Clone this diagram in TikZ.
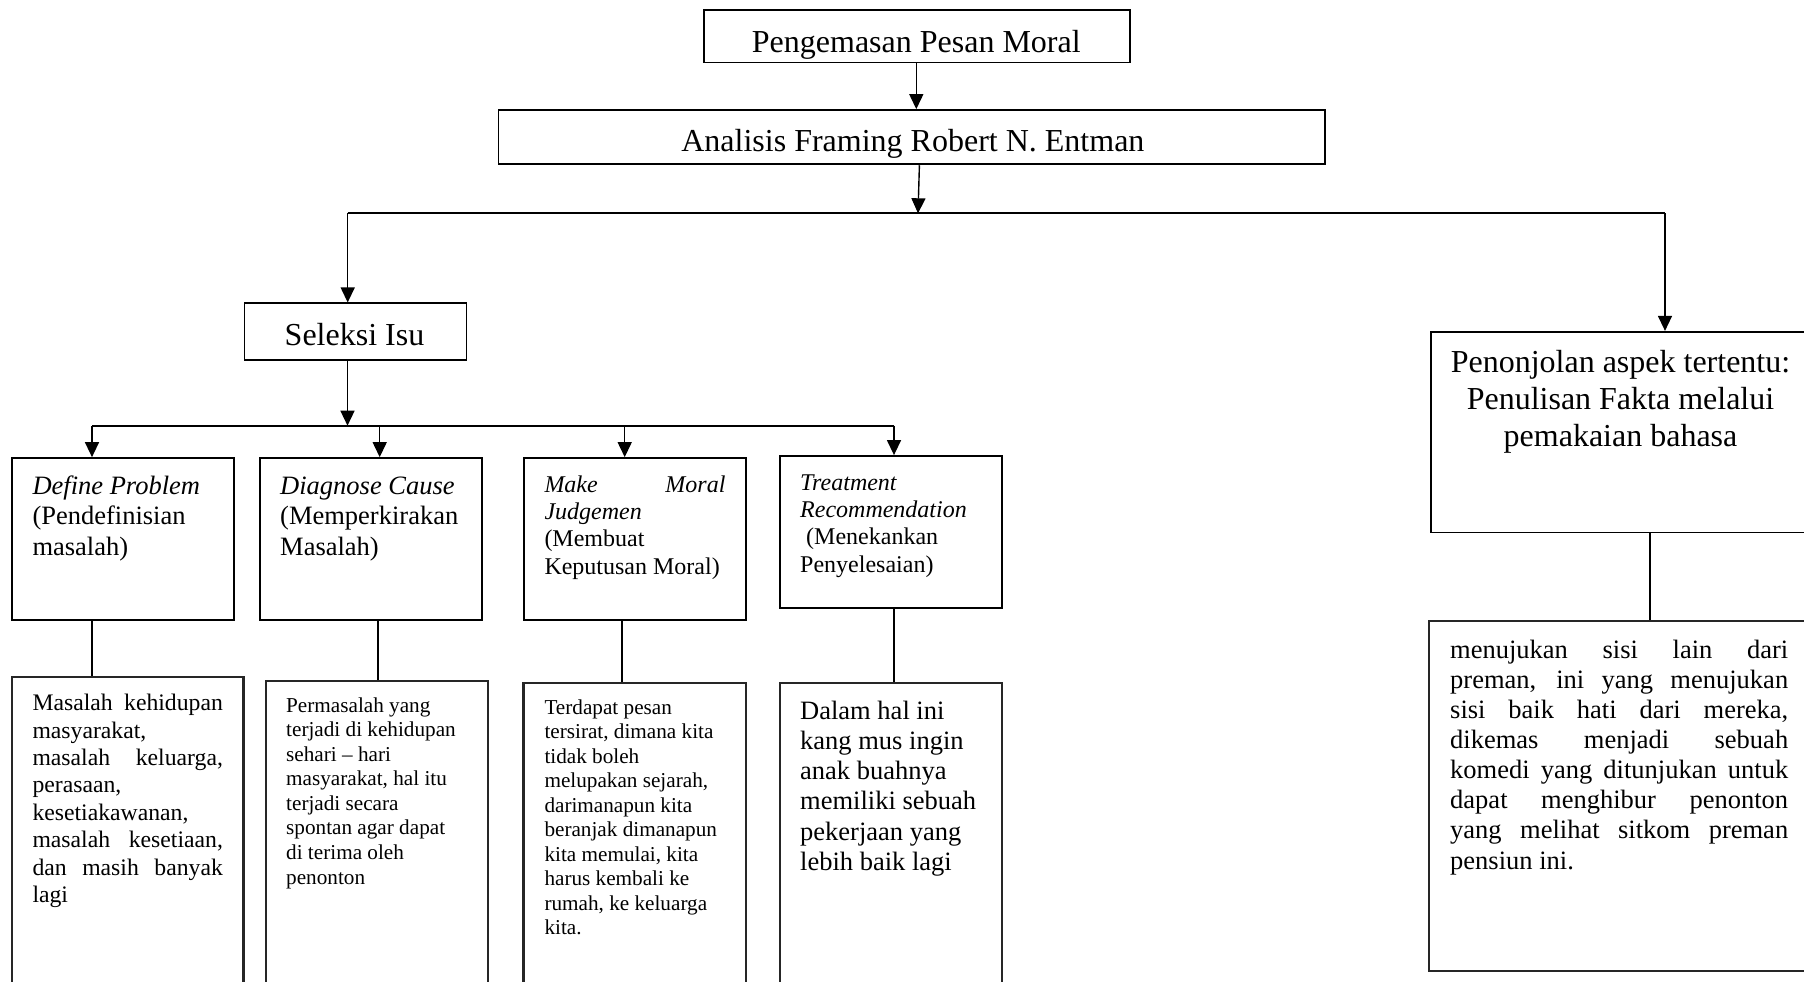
\documentclass[tikz,border=0pt]{standalone}
\usepackage{fontspec}
\setmainfont{Liberation Serif}
\usetikzlibrary{arrows.meta}
\newcommand\fsz[2]{\fontsize{#1}{#2}\selectfont}
\newcommand\Jl[2]{\hbox to #1{#2}}
\newcommand\Lf[1]{\hbox{#1}}
\newcommand\Cl[2]{\hbox to #1{\hss#2\hss}}
\tikzset{
  box/.style={draw, line width=1.8pt, inner sep=0pt, rectangle},
  bbox/.style={draw=black!85, line width=2.4pt, inner sep=0pt, rectangle},
  conn/.style={line width=1.6pt},
  arr/.style={line width=1.4pt, -{Triangle[length=15pt,width=14pt]}},
  busline/.style={line width=2.2pt},
  txt/.style={inner sep=0pt, anchor=base west},
  ctxt/.style={inner sep=0pt, anchor=base},
}
\begin{document}
\begin{tikzpicture}[x=1pt,y=-1pt]
\useasboundingbox (0,0) rectangle (1804,982);
\clip (0,0) rectangle (1804,982);
\fill[white] (0,0) rectangle (1804,982);

% boxes
\node[box, minimum width=426pt, minimum height=52.5pt] (top) at (917,36.3) {};
\node[box, minimum width=826.5pt, minimum height=54.3pt] (ana) at (911.8,137.2) {};
\node[box, minimum width=222pt, minimum height=56.7pt] (sel) at (355.4,331.7) {};
\node[box, minimum width=379.6pt, minimum height=200.6pt] (pen) at (1620.5,432.1) {};
\node[box, minimum width=222.6pt, minimum height=161.7pt] (dp) at (123,538.9) {};
\node[box, minimum width=222.6pt, minimum height=161.7pt] (dc) at (371,538.9) {};
\node[box, minimum width=222.3pt, minimum height=161.7pt] (mmj) at (634.9,538.9) {};
\node[box, minimum width=222.6pt, minimum height=152pt] (tr) at (891,532) {};
\node[bbox, minimum width=231.6pt, minimum height=323pt] (dpb) at (127.5,838.5) {};
\node[bbox, minimum width=222pt, minimum height=319pt] (dcb) at (376.7,840.5) {};
\node[bbox, minimum width=222.4pt, minimum height=317pt] (mmjb) at (634.5,841.5) {};
\node[bbox, minimum width=222pt, minimum height=317pt] (trb) at (890.7,841.5) {};
\node[bbox, minimum width=382.7pt, minimum height=350pt] (rb) at (1620.6,796) {};

% texts
\node[ctxt, font=\fsz{32}{37}] (toptxt) at (916.3,52.5) {Pengemasan Pesan Moral};
\node[ctxt, font=\fsz{32}{37}] (anatxt) at (912.9,151.5) {Analisis Framing Robert N. Entman};
\node[ctxt, font=\fsz{32}{37}] (seltxt) at (354.5,345.5) {Seleksi Isu};
\node[ctxt, font=\fsz{32}{37}] (pentxt) at (1620.5,372.5) {\vtop{\Cl{380pt}{Penonjolan aspek tertentu:}\Cl{380pt}{Penulisan Fakta melalui}\Cl{380pt}{pemakaian bahasa}}};

\node[txt, font=\fsz{26.5}{30.2}] (dptxt) at (32.3,494.6) {\vtop{\Lf{\itshape Define Problem}\Lf{(Pendefinisian}\Lf{masalah)}}};
\node[txt, font=\fsz{26.5}{30.2}] (dctxt) at (280,494.6) {\vtop{\Lf{\itshape Diagnose Cause}\Lf{(Memperkirakan}\Lf{Masalah)}}};
\node[txt, font=\fsz{24}{27.35}] (mmjtxt) at (544.3,492) {\vtop{\Jl{181pt}{\itshape Make Moral}\Lf{\itshape Judgemen}\Lf{(Membuat}\Lf{Keputusan Moral)}}};
\node[txt, font=\fsz{24}{27.47}] (trtxt) at (800,490) {\vtop{\Lf{\itshape Treatment}\Lf{\itshape Recommendation}\Lf{\hspace{6pt}(Menekankan}\Lf{Penyelesaian)}}};

\node[txt, font=\fsz{23.7}{27.4}] (dpbtxt) at (32.3,710.6) {\vtop{%
\Jl{190.4pt}{Masalah kehidupan}\Lf{masyarakat,}\Jl{190.4pt}{masalah keluarga,}\Lf{perasaan,}%
\Lf{kesetiakawanan,}\Jl{190.4pt}{masalah kesetiaan,}\Jl{190.4pt}{dan masih banyak}\Lf{lagi}}};
\node[txt, font=\fsz{21.2}{24.53}] (dcbtxt) at (286,712.3) {\vtop{%
\Lf{Permasalah yang}\Lf{terjadi di kehidupan}\Lf{sehari -- hari}\Lf{masyarakat, hal itu}%
\Lf{terjadi secara}\Lf{spontan agar dapat}\Lf{di terima oleh}\Lf{penonton}}};
\node[txt, font=\fsz{21.2}{24.5}] (mmjbtxt) at (544.3,714) {\vtop{%
\Lf{Terdapat pesan}\Lf{tersirat, dimana kita}\Lf{tidak boleh}\Lf{melupakan sejarah,}%
\Lf{darimanapun kita}\Lf{beranjak dimanapun}\Lf{kita memulai, kita}\Lf{harus kembali ke}%
\Lf{rumah, ke keluarga}\Lf{kita.}}};
\node[txt, font=\fsz{26.5}{30.3}] (trbtxt) at (800,719) {\vtop{%
\Lf{Dalam hal ini}\Lf{kang mus ingin}\Lf{anak buahnya}\Lf{memiliki sebuah}%
\Lf{pekerjaan yang}\Lf{lebih baik lagi}}};
\node[txt, font=\fsz{26.5}{30.03}] (rbtxt) at (1450,658.8) {\vtop{%
\Jl{338pt}{menujukan sisi lain dari}\Jl{338pt}{preman, ini yang menujukan}%
\Jl{338pt}{sisi baik hati dari mereka,}\Jl{338pt}{dikemas menjadi sebuah}%
\Jl{338pt}{komedi yang ditunjukan untuk}\Jl{338pt}{dapat menghibur penonton}%
\Jl{338pt}{yang melihat sitkom preman}\Lf{pensiun ini.}}};

% connector coordinates
\coordinate (busL) at (347.7,213.3);
\coordinate (busR) at (1665,213.3);
\coordinate (a2) at (919.4,0);
\coordinate (a2b) at (918,213.3);
\coordinate (b2L) at (92,425.7);
\coordinate (b2R) at (894,425.7);
\coordinate (s2) at (347.5,425.7);
\coordinate (xdc) at (379.7,425.7);
\coordinate (xmmj) at (624.7,425.7);
\coordinate (ydp) at (91.7,0);
\coordinate (ydc) at (377.7,0);
\coordinate (ymmj) at (622,0);
\coordinate (ytr) at (894,0);
\coordinate (ypen) at (1649.7,0);

% arrows
\draw[arr] (top.south -| toptxt) -- (ana.north -| toptxt);
\draw[arr] (a2 |- ana.south) -- (a2b);
\draw[busline] (busL) -- (busR);
\draw[arr] (busL) -- (busL |- sel.north);
\draw[arr] (busR) -- (busR |- pen.north);
\draw[arr] (s2 |- sel.south) -- (s2);
\draw[busline] (b2L) -- (b2R);
\draw[arr] (b2L) -- (b2L |- dp.north);
\draw[arr] (xdc) -- (xdc |- dc.north);
\draw[arr] (xmmj) -- (xmmj |- mmj.north);
\draw[arr] (b2R) -- (b2R |- tr.north);

% plain connectors
\draw[conn] (ydp |- dp.south) -- (ydp |- dpb.north);
\draw[conn] (ydc |- dc.south) -- (ydc |- dcb.north);
\draw[conn] (ymmj |- mmj.south) -- (ymmj |- mmjb.north);
\draw[conn] (ytr |- tr.south) -- (ytr |- trb.north);
\draw[conn] (ypen |- pen.south) -- (ypen |- rb.north);
\end{tikzpicture}
\end{document}
